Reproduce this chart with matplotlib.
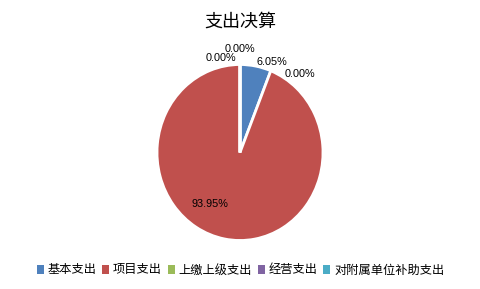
import matplotlib
matplotlib.use("Agg")
import matplotlib.pyplot as plt

plt.rcParams['font.family'] = ['Noto Sans CJK SC', 'DejaVu Sans']

title = "支出决算"
categories = ["基本支出", "项目支出", "上缴上级支出", "经营支出", "对附属单位补助支出"]
values = [6.05, 93.95, 0.00, 0.00, 0.00]
colors = ["#4F81BD", "#C0504D", "#9BBB59", "#8064A2", "#4BACC6"]
label_pos = [(0.39, 1.03), (-0.36, -0.585), (-0.23, 1.07), (0.0, 1.18), (0.72, 0.89)]

W, H = 481, 289
fig = plt.figure(figsize=(W / 100, H / 100), dpi=100)
fig.patch.set_facecolor("white")

cx, cy, rx, ry = 240, 152.5, 83, 88
ax = fig.add_axes([(cx - rx) / W, (H - cy - ry) / H, 2 * rx / W, 2 * ry / H])

wedges, texts, autotexts = ax.pie(
    values, colors=colors, startangle=90, counterclock=False,
    autopct=lambda p: f"{p:.2f}%", radius=1,
    wedgeprops=dict(edgecolor="white", linewidth=2),
    textprops=dict(fontsize=7.8, family=['Liberation Sans', 'DejaVu Sans'], color="#000000"),
)
ax.set_aspect('auto')
ax.set_xlim(-1, 1)
ax.set_ylim(-1, 1)
ax.axis('off')
for t, (x, y) in zip(autotexts, label_pos):
    t.set_position((x, y))
    t.set_ha('center')
    t.set_va('center')
    t.set_clip_on(False)

fig.text(0.5, 1 - 22 / H, title, ha='center', va='center', fontsize=13, color="#000000")

leg = fig.legend(wedges, categories, loc='center', bbox_to_anchor=(0.5, 1 - 270 / H),
                 ncol=5, frameon=False, fontsize=8.8, handlelength=0.6, handleheight=0.8,
                 handletextpad=0.3, columnspacing=0.45, borderaxespad=0)
for h in leg.legend_handles:
    h.set_linewidth(0)

fig.savefig("out.png", dpi=100, facecolor="white")
